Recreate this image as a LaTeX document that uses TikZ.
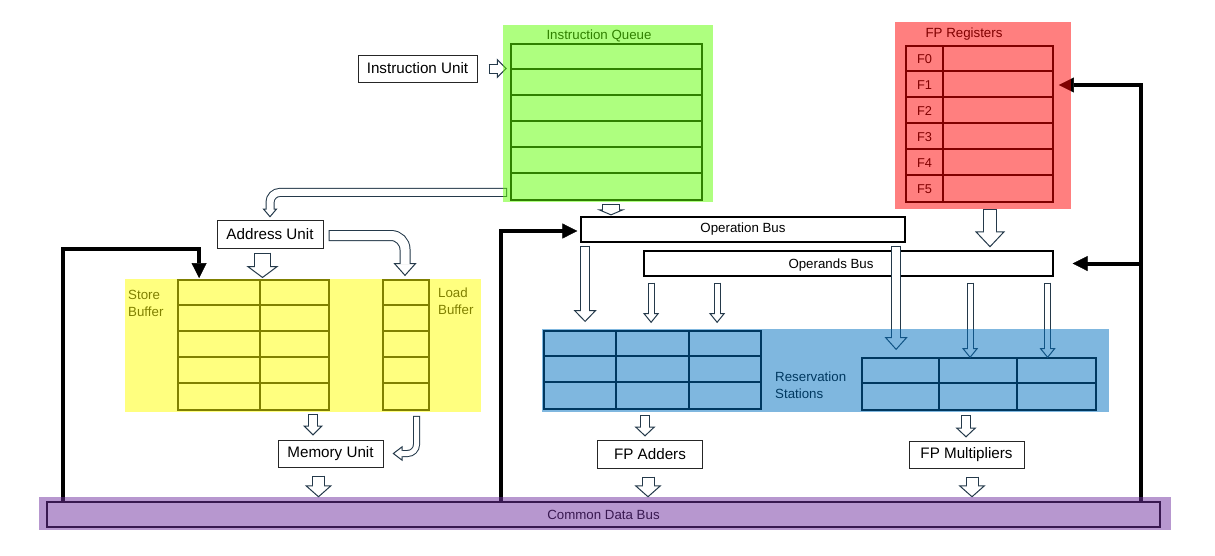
\documentclass[tikz,border=0pt]{standalone}
\usepackage{fontspec}
\setmainfont{Liberation Sans}
\usepackage{tikz}
\usetikzlibrary{arrows.meta,positioning,calc}
\definecolor{slate}{HTML}{24394A}
\definecolor{qgreen}{HTML}{5FFF00}
\definecolor{regred}{HTML}{FF0000}
\definecolor{bufyellow}{HTML}{FFFF00}
\definecolor{rsblue}{HTML}{0070C0}
\definecolor{cdbpurple}{HTML}{7030A0}

\begin{document}
\begin{tikzpicture}[
    x=1pt, y=-1pt,
    unitbox/.style={draw=black!85, line width=1pt, fill=white, inner sep=0pt,
                    font=\fontsize{15.2}{17}\selectfont},
    busbox/.style={draw=black, line width=1.2pt, fill=white, inner sep=0pt,
                   font=\fontsize{13.3}{15}\selectfont},
    zone/.style={draw=none, inner sep=0pt},
    cellgrid/.style={draw=black, line width=1.8pt, inner sep=0pt},
    tagtext/.style={font=\fontsize{13.3}{16.5}\selectfont, inner sep=0pt},
    hollow/.style args={#1/#2/#3}{draw=slate, line width=#1pt,
        -{Triangle[open, fill=white, line width=1pt, width=#2pt, length=#3pt]},
        postaction={draw=white, arrows=-, line width=#1pt-2pt,
                    shorten <=1pt, shorten >=#3pt-1.5pt}},
    feed/.style={line width=4pt, -{Triangle[length=15pt, width=15pt, line width=0.5pt]}},
    tint/.style={fill opacity=0.5}
  ]
  \fill[white] (0,0) rectangle (1215,555);
  \useasboundingbox (0,0) rectangle (1215,555);

  %%%%%%%%%%%%% Top: Instruction Unit & Queue %%%%%%%%%%%%%
  \node[unitbox, minimum width=119pt, minimum height=27pt] (iu) at (417.5,68.5) {Instruction Unit};
  \node[zone, minimum width=210pt, minimum height=177pt] (queue) at (608,113.5) {};
  \node[tagtext] (queuetitle) at (599,36) {Instruction Queue};
  \node[cellgrid, minimum width=191pt, minimum height=156pt] (qtab) at (606.5,122) {};
  \foreach \k in {1,...,5}
    \draw[cellgrid] ([yshift=-\k*26pt]qtab.north west) -- ([yshift=-\k*26pt]qtab.north east);

  %%%%%%%%%%%%% Top right: FP Registers %%%%%%%%%%%%%
  \node[zone, minimum width=176pt, minimum height=187pt] (regs) at (983,115.5) {};
  \node[tagtext] (regtitle) at (964,34) {FP Registers};
  \node[cellgrid, minimum width=147pt, minimum height=156pt] (rtab) at (979.5,124) {};
  \draw[cellgrid] ([xshift=38pt]rtab.north west) -- ([xshift=38pt]rtab.south west);
  \foreach \k in {1,...,5}
    \draw[cellgrid] ([yshift=-\k*26pt]rtab.north west) -- ([yshift=-\k*26pt]rtab.north east);
  \foreach \k in {0,...,5}
    \node[tagtext, font=\fontsize{12.8}{14}\selectfont] (f\k) at (924.5,59+26*\k) {F\k};

  %%%%%%%%%%%%% Left: Address Unit, Buffers, Memory %%%%%%%%%%%%%
  \node[unitbox, minimum width=106pt, minimum height=28pt] (addr) at (270,234) {Address Unit};
  \node[zone, minimum width=356pt, minimum height=133pt] (bufs) at (303,345.5) {};
  \node[cellgrid, minimum width=151pt, minimum height=130pt] (store) at (253.5,345) {};
  \node[cellgrid, minimum width=46pt, minimum height=130pt] (load) at (406,345) {};
  \draw[cellgrid] ([xshift=83pt]store.north west) -- ([xshift=83pt]store.south west);
  \foreach \k in {1,...,4} {
    \draw[cellgrid] ([yshift=-\k*26pt]store.north west) -- ([yshift=-\k*26pt]store.north east);
    \draw[cellgrid] ([yshift=-\k*26pt]load.north west) -- ([yshift=-\k*26pt]load.north east);
  }
  \node[tagtext, anchor=west, align=left] (storetext) at (128,303.5) {Store\\Buffer};
  \node[tagtext, anchor=west, align=left] (loadtext) at (438,301) {Load\\Buffer};
  \node[unitbox, minimum width=105pt, minimum height=27pt] (mem) at (330.5,453.5) {Memory Unit};

  %%%%%%%%%%%%% Right: Buses, Reservation Stations, FUs %%%%%%%%%%%%%
  \node[busbox, minimum width=324pt, minimum height=25pt] (opbus) at (743,229.5) {Operation Bus};
  \node[busbox, minimum width=409pt, minimum height=25pt] (oprbus) at (848.5,263.5) {};
  \node[tagtext] (oprtext) at (831,265) {Operands Bus};
  \node[zone, minimum width=567pt, minimum height=83pt] (rs) at (825.5,370.5) {};
  \node[cellgrid, minimum width=217pt, minimum height=78pt] (rsleft) at (652.5,370) {};
  \node[cellgrid, minimum width=234pt, minimum height=52pt] (rsright) at (979,384) {};
  \foreach \c in {73,146}
    \draw[cellgrid] ([xshift=\c pt]rsleft.north west) -- ([xshift=\c pt]rsleft.south west);
  \foreach \k in {1,2}
    \draw[cellgrid] ([yshift=-\k*26pt]rsleft.north west) -- ([yshift=-\k*26pt]rsleft.north east);
  \foreach \c in {78,156}
    \draw[cellgrid] ([xshift=\c pt]rsright.north west) -- ([xshift=\c pt]rsright.south west);
  \draw[cellgrid] ([yshift=-26pt]rsright.north west) -- ([yshift=-26pt]rsright.north east);
  \node[tagtext, anchor=west, align=left] (rstext) at (775,385) {Reservation\\Stations};
  \node[unitbox, minimum width=105pt, minimum height=28pt] (adders) at (650,454) {FP Adders};
  \node[unitbox, minimum width=115pt, minimum height=27pt] (mults) at (966.5,454.5) {FP Multipliers};

  %%%%%%%%%%%%% Bottom: Common Data Bus %%%%%%%%%%%%%
  \node[busbox, minimum width=1113pt, minimum height=25pt] (cdb) at (603.5,514.5) {Common Data Bus};

  %%%%%%%%%%%%% Hollow arrows: instruction flow %%%%%%%%%%%%%
  \draw[hollow=10/20/10] ([xshift=11pt]iu.east) -- ([xshift=4pt]queue.west |- iu.east);
  \draw[hollow=18/28/6] ([xshift=4.5pt,yshift=-2pt]qtab.south |- queue.south) -- ([xshift=4.5pt,yshift=1pt]qtab.south |- opbus.north);
  \draw[hollow=9/15/9, rounded corners=10pt] ([shift={(-3,-8.5)}]qtab.south west) -| ([yshift=2pt]addr.north);
  \draw[hollow=14/30/16] ([xshift=10.5pt]rtab.south |- regs.south) -- ([xshift=10.5pt,yshift=3pt]rtab.south |- oprbus.north);

  %%%%%%%%%%%%% Hollow arrows: memory side %%%%%%%%%%%%%
  \draw[hollow=17/32/12] ([shift={(-7.5,4)}]addr.south) -- ([xshift=-7.5pt,yshift=1pt]addr.south |- store.north);
  \draw[hollow=11/23/13, rounded corners=14pt] ([shift={(5,1.5)}]addr.east) -| ([xshift=-1pt,yshift=3pt]load.north);
  \draw[hollow=10/20/10] ([xshift=59.5pt,yshift=-3pt]store.south) -- ([xshift=59.5pt,yshift=4pt]store.south |- mem.north);
  \draw[hollow=7/15/10, rounded corners=9pt] ([shift={(10.5,5)}]load.south) |- ([xshift=9pt]mem.east);
  \draw[hollow=13/27/12] ([shift={(-12,8)}]mem.south) -- ([xshift=-12pt,yshift=4pt]mem.south |- cdb.north);

  %%%%%%%%%%%%% Hollow arrows: buses -> reservation stations -> FUs %%%%%%%%%%%%%
  \draw[hollow=10/23/12] ([xshift=42pt,yshift=-3pt]rsleft.north west |- opbus.south) -- ([xshift=42pt,yshift=8pt]rsleft.north west);
  \draw[hollow=7/16/10] ([xshift=108pt,yshift=-6pt]rsleft.north west |- oprbus.south) -- ([xshift=108pt,yshift=7pt]rsleft.north west);
  \draw[hollow=7/16/10] ([xshift=174pt,yshift=-6pt]rsleft.north west |- oprbus.south) -- ([xshift=174pt,yshift=7pt]rsleft.north west);
  \draw[hollow=10/23/13] ([xshift=35pt,yshift=-3pt]rsright.north west |- opbus.south) -- ([xshift=35pt,yshift=7pt]rsright.north west);
  \draw[hollow=7/16/10] ([xshift=109pt,yshift=-6pt]rsright.north west |- oprbus.south) -- ([xshift=109pt,yshift=-1pt]rsright.north west);
  \draw[hollow=7/16/10] ([xshift=186.5pt,yshift=-6pt]rsright.north west |- oprbus.south) -- ([xshift=186.5pt,yshift=-1pt]rsright.north west);
  \draw[hollow=10/21/10] ([shift={(-5,3)}]adders.north |- rs.south) -- ([shift={(-5,-3)}]adders.north);
  \draw[hollow=10/21/10] ([shift={(-0.5,3)}]mults.north |- rs.south) -- ([shift={(-0.5,-3)}]mults.north);
  \draw[hollow=13/27/12] ([shift={(-2,8)}]adders.south) -- ([xshift=-2pt,yshift=4pt]adders.south |- cdb.north);
  \draw[hollow=13/27/12] ([shift={(5.5,8)}]mults.south) -- ([xshift=5.5pt,yshift=4pt]mults.south |- cdb.north);

  %%%%%%%%%%%%% Common Data Bus feedback %%%%%%%%%%%%%
  \coordinate (tapl) at ([xshift=17pt]cdb.north west);
  \coordinate (tapm) at ([xshift=455pt]cdb.north west);
  \coordinate (tapr) at ([xshift=-20pt]cdb.north east);
  \draw[feed] (tapl) |- ([shift={(22,-30)}]store.north west) -- ([xshift=22pt,yshift=1pt]store.north west);
  \draw[feed] (tapm) |- ([shift={(-3,1.5)}]opbus.west);
  \draw[feed] (tapr) |- ([xshift=5pt]rtab.east |- f1);
  \draw[feed] (tapr |- oprbus) -- ([xshift=19pt]oprbus.east);

  %%%%%%%%%%%%% Coloured regions on top %%%%%%%%%%%%%
  \fill[qgreen, tint] (queue.north west) rectangle (queue.south east);
  \fill[regred, tint] (regs.north west) rectangle (regs.south east);
  \fill[bufyellow, tint] (bufs.north west) rectangle (bufs.south east);
  \fill[rsblue, tint] (rs.north west) rectangle (rs.south east);
  \fill[cdbpurple, tint] ([shift={(-7,-4)}]cdb.north west) rectangle ([shift={(10,2)}]cdb.south east);

\end{tikzpicture}
\end{document}
